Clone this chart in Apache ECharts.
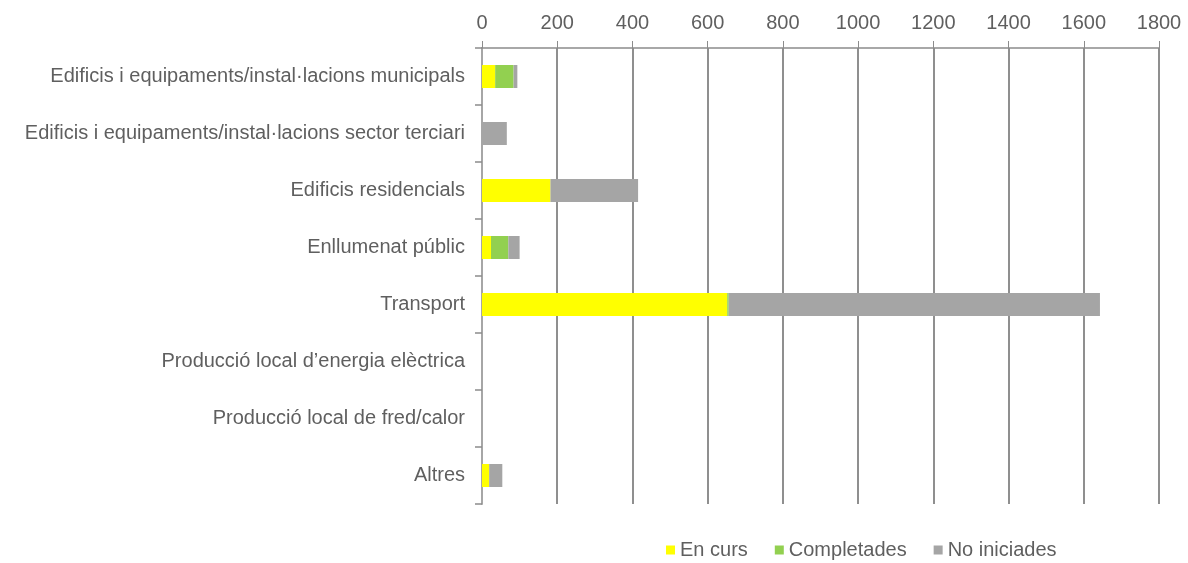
<!DOCTYPE html>
<html>
<head>
<meta charset="utf-8">
<script src="https://cdn.jsdelivr.net/npm/echarts@6/dist/echarts.min.js"></script>
<style>
  html, body { margin: 0; padding: 0; background: #fff; }
  #chart { width: 1188px; height: 563px; }
</style>
</head>
<body>
<div id="chart"></div>
<script>
const categories = [
  'Edificis i equipaments/instal·lacions municipals',
  'Edificis i equipaments/instal·lacions sector terciari',
  'Edificis residencials',
  'Enllumenat públic',
  'Transport',
  'Producció local d’energia elèctrica',
  'Producció local de fred/calor',
  'Altres'
]
const enCurs = [35, 0, 182, 24, 652, 0, 0, 19]
const completades = [49, 0, 0, 46, 4, 0, 0, 0]
const noIniciades = [10, 66, 233, 30, 987, 0, 0, 35]
const xTicks = [0, 200, 400, 600, 800, 1000, 1200, 1400, 1600, 1800]

const font = 'Liberation Sans, Arial, sans-serif'
const textColor = '#5f5f5f'

const chart = echarts.init(document.getElementById('chart'))

const makeSeries = (name, data, color) => ({
  name: name,
  type: 'bar',
  stack: 'total',
  data: data,
  barWidth: 23,
  itemStyle: { color: color },
  emphasis: { disabled: true }
})

chart.setOption({
  animation: false,
  grid: { left: 482, right: 29, top: 48, bottom: 59, containLabel: false },
  legend: {
    top: 535,
    left: 661,
    itemWidth: 9,
    itemHeight: 9,
    itemGap: 27,
    icon: 'rect',
    textStyle: { fontFamily: font, fontSize: 20, color: textColor },
    data: ['En curs', 'Completades', 'No iniciades']
  },
  xAxis: {
    type: 'value',
    position: 'top',
    min: xTicks[0],
    max: xTicks[xTicks.length - 1],
    interval: 200,
    axisLine: { show: true, lineStyle: { color: '#8c8c8c', width: 1.5 } },
    axisTick: { show: true, length: 7, lineStyle: { color: '#8c8c8c' } },
    axisLabel: {
      fontFamily: font, fontSize: 20, color: textColor, margin: 15,
      formatter: v => String(v)
    },
    splitLine: { show: true, lineStyle: { color: '#8f8f8f', width: 2 } }
  },
  yAxis: {
    type: 'category',
    inverse: true,
    data: categories,
    axisLine: { show: true, lineStyle: { color: '#a6a6a6', width: 2 } },
    axisTick: { show: true, length: 7, lineStyle: { color: '#8c8c8c', width: 1.5 } },
    axisLabel: { fontFamily: font, fontSize: 20, color: textColor, margin: 17 }
  },
  series: [
    makeSeries('En curs', enCurs, '#ffff00'),
    makeSeries('Completades', completades, '#92d050'),
    makeSeries('No iniciades', noIniciades, '#a5a5a5')
  ]
})
</script>
</body>
</html>
